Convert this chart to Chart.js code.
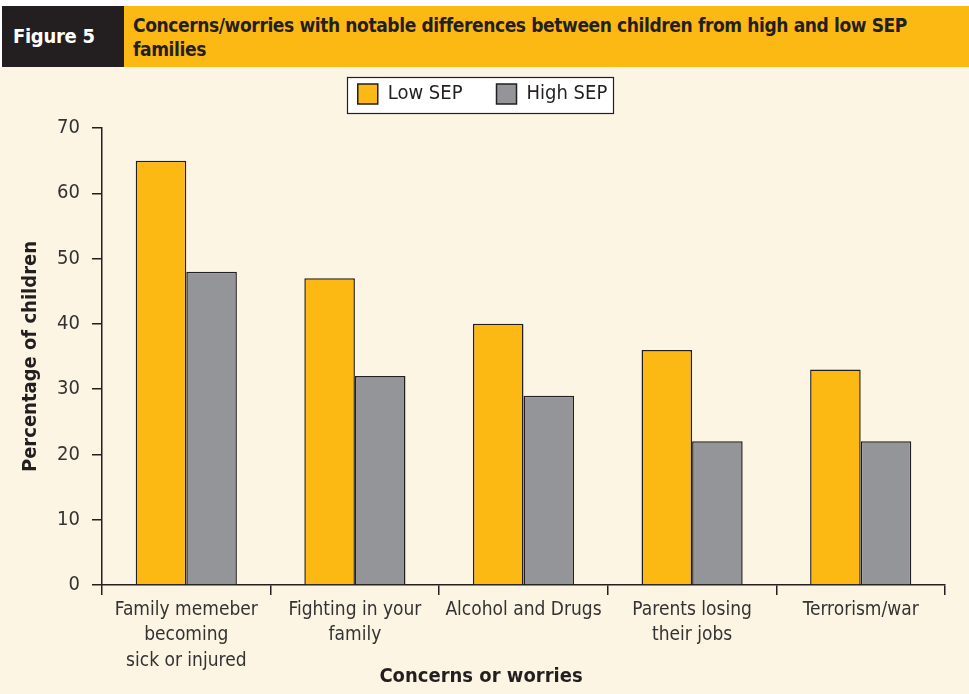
<!doctype html>
<html>
<head>
	<title>Figure 5</title>
	<script src="https://cdn.jsdelivr.net/npm/chart.js@4/dist/chart.umd.min.js"></script>
	<style>
		body { margin: 0; background: #fff; width: 969px; height: 694px; overflow: hidden; }
		.header { position: absolute; top: 6px; left: 0; width: 969px; height: 61px; }
		.fig { position: absolute; left: 2px; top: 0; width: 122px; height: 61px; background: #231f20; color: #fff; box-sizing: border-box;
			font: bold 20px 'DejaVu Sans Condensed', sans-serif; line-height: 61px; padding-left: 11px; letter-spacing: -0.3px; }
		.title { position: absolute; left: 124px; top: 0; right: 0; height: 61px; background: #fdb913; color: #231f20; letter-spacing: -0.4px;
			font: bold 19px 'DejaVu Sans Condensed', sans-serif; line-height: 24px; padding: 7px 0 0 9px; box-sizing: border-box; }
		.chart-container { position: absolute; top: 67px; left: 0; width: 969px; height: 627px; background: #fdf5e4; }
	</style>
</head>
<body>
	<div class="header">
		<div class="fig">Figure 5</div>
		<div class="title">Concerns/worries with notable differences between children from high and low SEP<br>families</div>
	</div>
	<div class="chart-container"><canvas id="chart" width="969" height="627"></canvas></div>
	<script>
		var categories = [
			['Family memeber', 'becoming', 'sick or injured'],
			['Fighting in your', 'family'],
			'Alcohol and Drugs',
			['Parents losing', 'their jobs'],
			'Terrorism/war'
		];
		var lowSEP = [65, 47, 40, 36, 33];
		var highSEP = [48, 32, 29, 22, 22];
		var yTicks = [0, 10, 20, 30, 40, 50, 60, 70];
		var xTitle = 'Concerns or worries';

		var fontFamily = "'DejaVu Sans Condensed', sans-serif";
		var ink = '#231f20';

		// white frame behind the legend, more room under it, and the x title centred on the page
		var extras = {
			id: 'extras',
			beforeLayout: function(chart) {
				var lg = chart.legend;
				if (lg && !lg._patched) {
					var fit = lg.fit;
					lg.fit = function() {
						fit.apply(this, arguments);
						this.height += 14;
					};
					lg._patched = true;
				}
			},
			afterLayout: function(chart) {
				// nudge legend items to sit inside the frame
				chart.legend.left += 10;
				chart.legend.right += 10;
			},
			beforeDraw: function(chart) {
				var ctx = chart.ctx;
				ctx.save();
				ctx.fillStyle = '#ffffff';
				ctx.fillRect(347.5, 10.5, 266, 36);
				ctx.restore();
			},
			afterDraw: function(chart) {
				var ctx = chart.ctx;
				ctx.save();
				ctx.strokeStyle = ink;
				ctx.lineWidth = 1.2;
				ctx.strokeRect(347.5, 10.5, 266, 36);
				ctx.fillStyle = ink;
				ctx.font = 'bold 20px ' + fontFamily;
				ctx.textAlign = 'center';
				ctx.textBaseline = 'middle';
				ctx.fillText(xTitle, 481, 610);
				ctx.restore();
			}
		};

		window.onload = function() {
			var ctx = document.getElementById('chart').getContext('2d');
			new Chart(ctx, {
				type: 'bar',
				data: {
					labels: categories,
					datasets: [{
						label: 'Low SEP',
						data: lowSEP,
						backgroundColor: '#fdb913',
						borderColor: ink,
						borderWidth: 1.5,
						categoryPercentage: 0.6,
						barPercentage: 1.0
					}, {
						label: 'High SEP',
						data: highSEP,
						backgroundColor: '#939598',
						borderColor: ink,
						borderWidth: 1.5,
						categoryPercentage: 0.6,
						barPercentage: 1.0
					}]
				},
				options: {
					responsive: false,
					animation: false,
					layout: { padding: { left: 0, right: 24, top: -17, bottom: 0 } },
					plugins: {
						title: { display: false },
						tooltip: { enabled: false },
						legend: {
							display: true,
							position: 'top',
							labels: {
								font: { family: fontFamily, size: 20 },
								color: ink,
								boxWidth: 20,
								boxHeight: 20,
								padding: 34
							}
						}
					},
					scales: {
						x: {
							grid: { display: true, offset: true, drawOnChartArea: false, drawTicks: true, tickLength: 10, color: ink, lineWidth: 1.5 },
							border: { display: true, color: ink, width: 1.5 },
							ticks: { font: { family: fontFamily, size: 19, lineHeight: 1.35 }, color: '#333', padding: 2, maxRotation: 0, autoSkip: false },
							title: { display: false },
							afterFit: function(scale) { scale.height = 109; }
						},
						y: {
							min: 0,
							max: 70,
							afterBuildTicks: function(scale) { scale.ticks = yTicks.map(function(v) { return { value: v }; }); },
							grid: { display: true, drawOnChartArea: false, drawTicks: true, tickLength: 10, color: ink, lineWidth: 1.5 },
							border: { display: true, color: ink, width: 1.5 },
							ticks: { font: { family: fontFamily, size: 20 }, color: '#333', padding: 12 },
							title: { display: true, text: 'Percentage of children', font: { family: fontFamily, size: 20, weight: 'bold' }, color: ink, padding: { top: 19, bottom: 0 } },
							afterFit: function(scale) { scale.width = 102; }
						}
					}
				},
				plugins: [extras]
			});
		};
	</script>
</body>
</html>
